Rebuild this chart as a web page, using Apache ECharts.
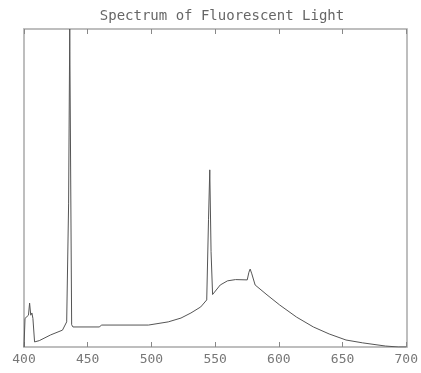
<!DOCTYPE html>
<html>
<head>
<meta charset="utf-8">
<script src="https://cdn.jsdelivr.net/npm/echarts@6/dist/echarts.min.js"></script>
<style>
  html, body { margin: 0; padding: 0; background: #fff; }
  #chart { width: 421px; height: 373px; }
</style>
</head>
<body>
<div id="chart"></div>
<script>
// wavelength (nm) and relative intensity
var wavelength = [400, 400.8, 402, 403.5, 404.4, 405.3, 406.2, 407, 408.3, 412, 420.9, 430.2, 433.5, 435, 435.9, 436.7, 437.4, 438.4, 459, 461, 497.7, 513.2, 523.2, 531, 538.7, 543.4, 544.8, 545.8, 546.8, 548, 549.6, 554, 559.7, 566, 575.2, 576.5, 577.5, 578.8, 581.4, 590.7, 600.7, 613.9, 627.1, 639.5, 652.7, 665.8, 683.7, 693.8, 700];
var intensity  = [0, 0.09, 0.085, 0.1, 0.138, 0.1, 0.107, 0.09, 0.016, 0.02, 0.038, 0.053, 0.079, 0.45, 1.0, 0.5, 0.07, 0.063, 0.063, 0.069, 0.069, 0.079, 0.091, 0.107, 0.126, 0.148, 0.4, 0.557, 0.3, 0.165, 0.173, 0.195, 0.208, 0.212, 0.211, 0.235, 0.245, 0.23, 0.195, 0.164, 0.132, 0.094, 0.063, 0.041, 0.022, 0.013, 0.003, 0, 0];
var xTicks = [400, 450, 500, 550, 600, 650, 700];
var titleText = "Spectrum of Fluorescent Light";

var points = wavelength.map(function (w, i) { return [w, intensity[i]]; });

var frameColor = "#bebebe";
var frameLine = { show: true, onZero: false, lineStyle: { color: frameColor, width: 2 } };
var chart = echarts.init(document.getElementById("chart"));
chart.setOption({
  animation: false,
  backgroundColor: "#fff",
  title: {
    text: titleText,
    left: 217,
    textAlign: "center",
    top: 4,
    textStyle: { fontFamily: "DejaVu Sans Mono", fontSize: 14, fontWeight: "normal", color: "#666" }
  },
  grid: { left: 24, right: 10, top: 29, bottom: 26 },
  xAxis: [
    {
      type: "value", min: 400, max: 700, interval: 50, position: "bottom",
      axisLine: frameLine,
      axisTick: { show: true, inside: true, length: 5, lineStyle: { color: "#888" } },
      axisLabel: {
        fontFamily: "DejaVu Sans Mono", fontSize: 13, color: "#777", margin: 6,
        formatter: function (v) { return xTicks.indexOf(v) >= 0 ? String(v) : ""; }
      },
      splitLine: { show: false }
    },
    {
      type: "value", min: 400, max: 700, interval: 50, position: "top",
      axisLine: frameLine,
      axisTick: { show: true, inside: true, length: 5, lineStyle: { color: "#888" } },
      axisLabel: { show: false },
      splitLine: { show: false }
    }
  ],
  yAxis: [
    {
      type: "value", min: 0, max: 1, position: "left",
      axisLine: frameLine,
      axisTick: { show: false }, axisLabel: { show: false }, splitLine: { show: false }
    },
    {
      type: "value", min: 0, max: 1, position: "right",
      axisLine: frameLine,
      axisTick: { show: false }, axisLabel: { show: false }, splitLine: { show: false }
    }
  ],
  series: [
    {
      type: "line",
      data: points,
      showSymbol: false,
      lineStyle: { color: "#555", width: 1 }
    }
  ]
});
</script>
</body>
</html>
